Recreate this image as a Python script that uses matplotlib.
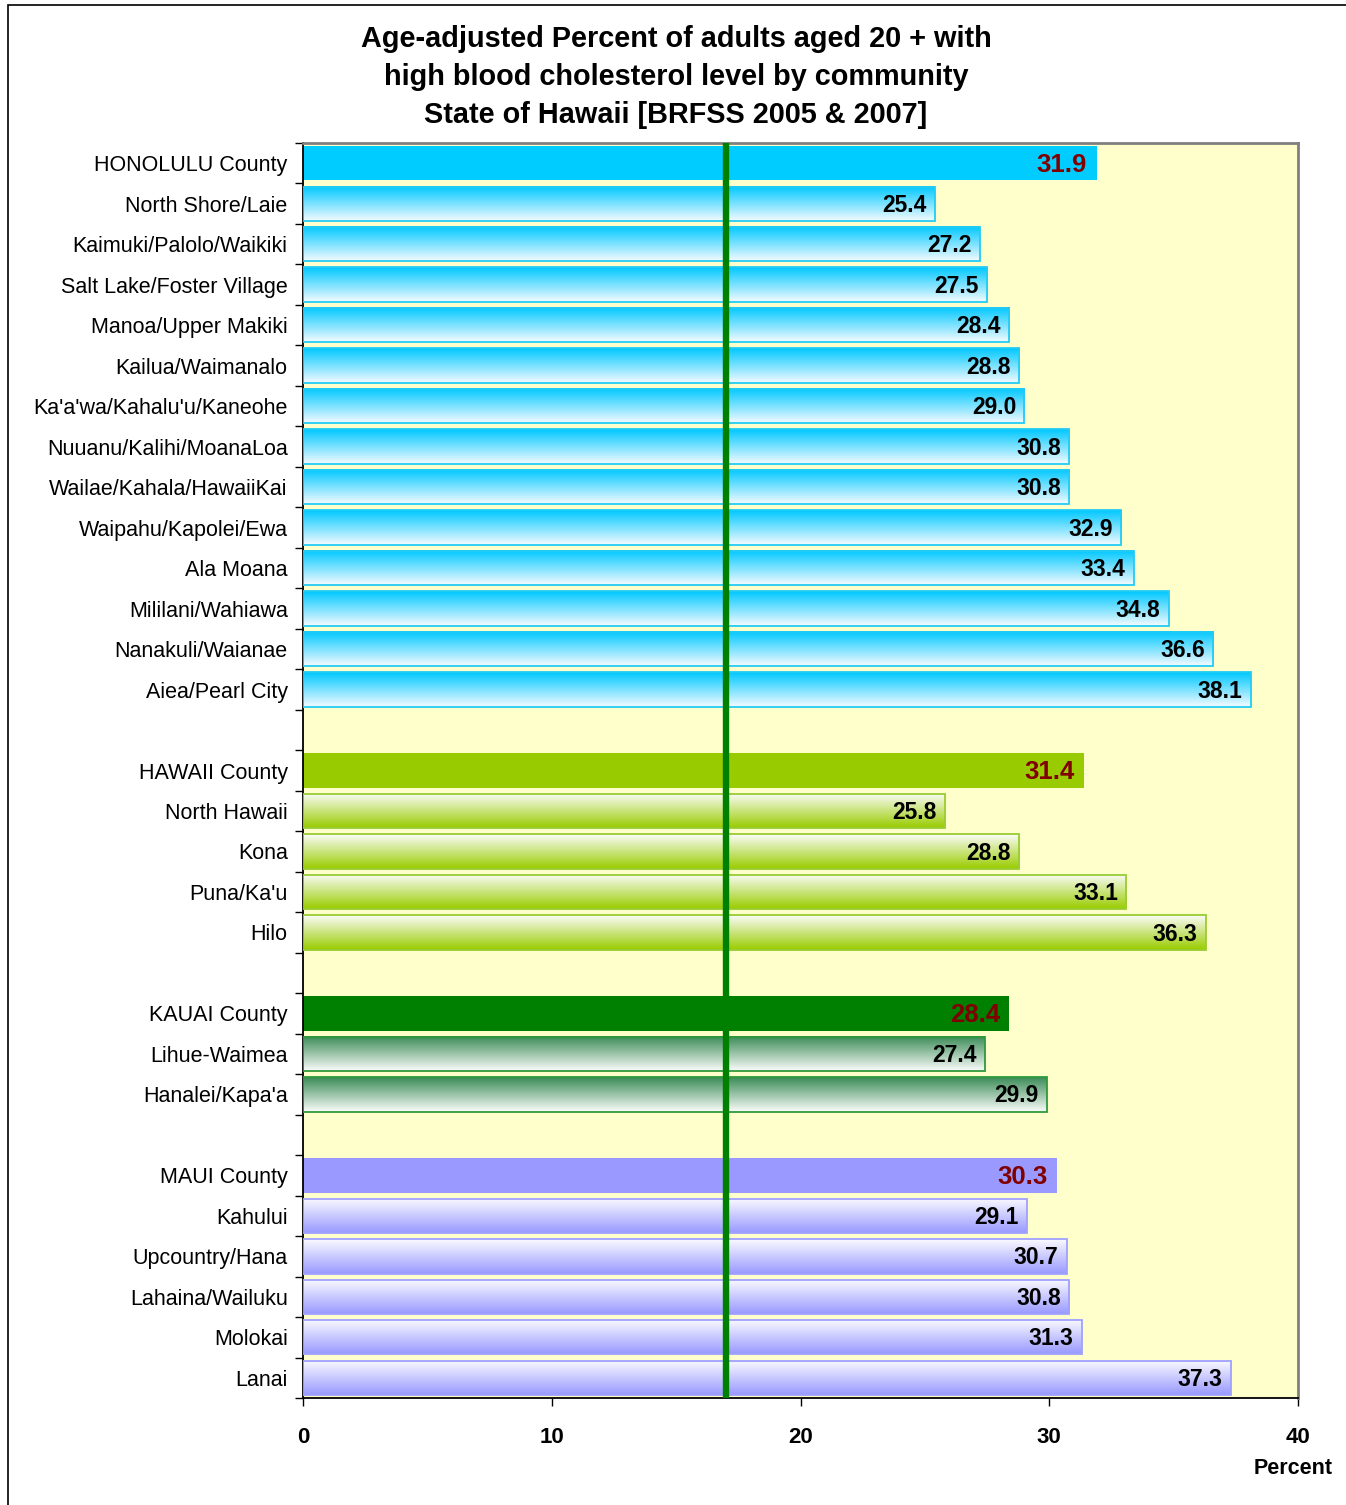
import numpy as np
import matplotlib
matplotlib.use("Agg")
import matplotlib.pyplot as plt
from matplotlib.colors import to_rgb
from matplotlib.patches import Rectangle

plt.rcParams['font.family'] = ['Liberation Sans', 'DejaVu Sans']

# data
honolulu_names = ["HONOLULU County", "North Shore/Laie", "Kaimuki/Palolo/Waikiki",
                  "Salt Lake/Foster Village", "Manoa/Upper Makiki", "Kailua/Waimanalo",
                  "Ka'a'wa/Kahalu'u/Kaneohe", "Nuuanu/Kalihi/MoanaLoa",
                  "Wailae/Kahala/HawaiiKai", "Waipahu/Kapolei/Ewa", "Ala Moana",
                  "Mililani/Wahiawa", "Nanakuli/Waianae", "Aiea/Pearl City"]
honolulu_vals = [31.9, 25.4, 27.2, 27.5, 28.4, 28.8, 29.0, 30.8, 30.8, 32.9, 33.4, 34.8, 36.6, 38.1]

hawaii_names = ["HAWAII County", "North Hawaii", "Kona", "Puna/Ka'u", "Hilo"]
hawaii_vals = [31.4, 25.8, 28.8, 33.1, 36.3]

kauai_names = ["KAUAI County", "Lihue-Waimea", "Hanalei/Kapa'a"]
kauai_vals = [28.4, 27.4, 29.9]

maui_names = ["MAUI County", "Kahului", "Upcountry/Hana", "Lahaina/Wailuku", "Molokai", "Lanai"]
maui_vals = [30.3, 29.1, 30.7, 30.8, 31.3, 37.3]

state_line = 17.0

# style per county: solid colour, gradient top, gradient bottom, edge colour
styles = [
    ("#00CCFF", "#00C8FF", "#F4FBFF", "#22CCF5"),
    ("#99CC00", "#FBFCF8", "#99CC00", "#99CC33"),
    ("#008000", "#3C8C58", "#FAFCFA", "#2E9A3A"),
    ("#9999FF", "#FAFAFF", "#9999FF", "#A0A0FF"),
]
groups = [(honolulu_names, honolulu_vals), (hawaii_names, hawaii_vals),
          (kauai_names, kauai_vals), (maui_names, maui_vals)]

fig = plt.figure(figsize=(13.46, 15.05), dpi=100)
ax = fig.add_axes([303 / 1346, 1 - 1398 / 1505, 995 / 1346, 1255 / 1505])
ax.set_facecolor("#FFFFCC")

fig.patches.append(Rectangle((8 / 1346, -0.01), 1.1, 1 - 5 / 1505 + 0.01,
                             transform=fig.transFigure, fill=False,
                             edgecolor="black", linewidth=1.2))

h = 0.85
labels = []
positions = []
pos = 0
for gi, (names, vals) in enumerate(groups):
    solid, top, bottom, edge = styles[gi]
    for j, (name, v) in enumerate(zip(names, vals)):
        labels.append(name)
        positions.append(pos)
        if j == 0:
            ax.barh(pos, v, height=h, color=solid, zorder=2)
            ax.text(v - 0.38, pos + 0.04, f"{v:.1f}", ha="right", va="center",
                    fontsize=18.5, fontweight="bold", color="#800000", zorder=5)
        else:
            grad = np.linspace(0, 1, 64)[:, None, None]
            img = (1 - grad) * np.array(to_rgb(top)) + grad * np.array(to_rgb(bottom))
            ax.imshow(img, extent=(0, v, pos + h / 2, pos - h / 2), aspect="auto",
                      interpolation="bilinear", zorder=2)
            ax.barh(pos, v, height=h, facecolor="none", edgecolor=edge,
                    linewidth=1.3, zorder=3)
            ax.text(v - 0.33, pos + 0.04, f"{v:.1f}", ha="right", va="center",
                    fontsize=16.5, fontweight="bold", color="black", zorder=5)
        pos += 1
    pos += 1  # blank row between counties
nrows = pos - 1

ax.axvline(state_line, color="#008000", linewidth=4.6, zorder=4)

ax.set_xlim(0, 40)
ax.set_ylim(nrows - 0.5, -0.5)
ax.set_xticks([0, 10, 20, 30, 40])
ax.set_xticklabels(["0", "10", "20", "30", "40"], fontsize=16, fontweight="bold")
ax.tick_params(axis="x", direction="out", length=6, width=1, pad=15)

ax.set_yticks(np.arange(-0.5, nrows, 1))
ax.set_yticklabels([])
ax.tick_params(axis="y", which="major", direction="out", length=6, width=1)
ax.set_yticks(positions, minor=True)
ax.set_yticklabels(labels, minor=True, fontsize=15.5)
ax.tick_params(axis="y", which="minor", length=0, pad=11)

for side in ["top", "right"]:
    ax.spines[side].set_color("#808080")
    ax.spines[side].set_linewidth(2)
for side in ["left", "bottom"]:
    ax.spines[side].set_color("black")
    ax.spines[side].set_linewidth(1.3)

fig.text(676 / 1346, 1 - 77 / 1505,
         "Age-adjusted Percent of adults aged 20 + with\n"
         "high blood cholesterol level by community\n"
         "State of Hawaii [BRFSS 2005 & 2007]",
         ha="center", va="center", fontsize=20.8, fontweight="bold", linespacing=1.45)
fig.text(1293 / 1346, 1 - 1469 / 1505, "Percent", ha="center", va="center",
         fontsize=15.5, fontweight="bold")

fig.savefig("out.png", dpi=100)
